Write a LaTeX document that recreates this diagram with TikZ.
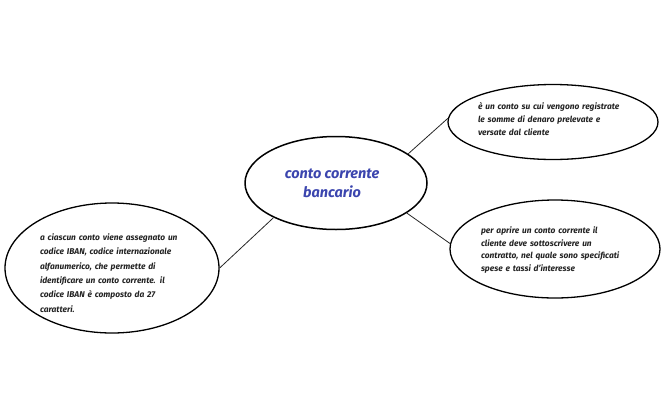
\documentclass[tikz,border=0pt]{standalone}
\usepackage{fontspec}
\setmainfont{Fira Sans}
\usepackage{tikz}
\usetikzlibrary{shapes.geometric,positioning}
\definecolor{titleblue}{HTML}{3B45AE}
\definecolor{notetext}{HTML}{222222}

\begin{document}
\begin{tikzpicture}[x=1pt,y=-1pt,
    bubble/.style={draw, ellipse, line width=1.5pt, inner sep=0pt},
    note/.style={text=notetext, font=\fontsize{8.4}{12.6}\selectfont\bfseries\itshape, align=left},
    link/.style={line width=0.8pt, draw=black!85}]
\useasboundingbox (0,0) rectangle (663,410);

\node[bubble, minimum width=182, minimum height=93] (conto) at (336,183) {};
\node[text=titleblue, font=\fontsize{14.5}{19}\selectfont\bfseries\itshape, align=center] (contoT) at (332,183) {conto corrente\\bancario};

\node[bubble, line width=1.3pt, minimum width=210, minimum height=75] (def) at (553,122) {};
\node[note, text width=160] (defT) at (558,119) {è un conto su cui vengono registrate\\le somme di denaro prelevate e\\versate dal cliente};

\node[bubble, line width=1.3pt, minimum width=210, minimum height=98] (contratto) at (555,249) {};
\node[note, text width=160] (contrattoT) at (561,250) {per aprire un conto corrente il\\cliente deve sottoscrivere un\\contratto, nel quale sono specificati\\spese e tassi d'interesse};

\node[bubble, line width=1.3pt, minimum width=214, minimum height=130] (iban) at (112,268) {};
\node[note, font=\fontsize{8.4}{14.3}\selectfont\bfseries\itshape, text width=160] (ibanT) at (120,273) {a ciascun conto viene assegnato un\\codice IBAN, codice internazionale\\alfanumerico, che permette di\\identificare un conto corrente. il\\codice IBAN è composto da 27\\caratteri.};

\draw[link] (conto.22) -- (def.178);
\draw[link] (conto.-23) -- (contratto.177);
\draw[link] (conto.209) -- (iban.0);
\end{tikzpicture}
\end{document}
